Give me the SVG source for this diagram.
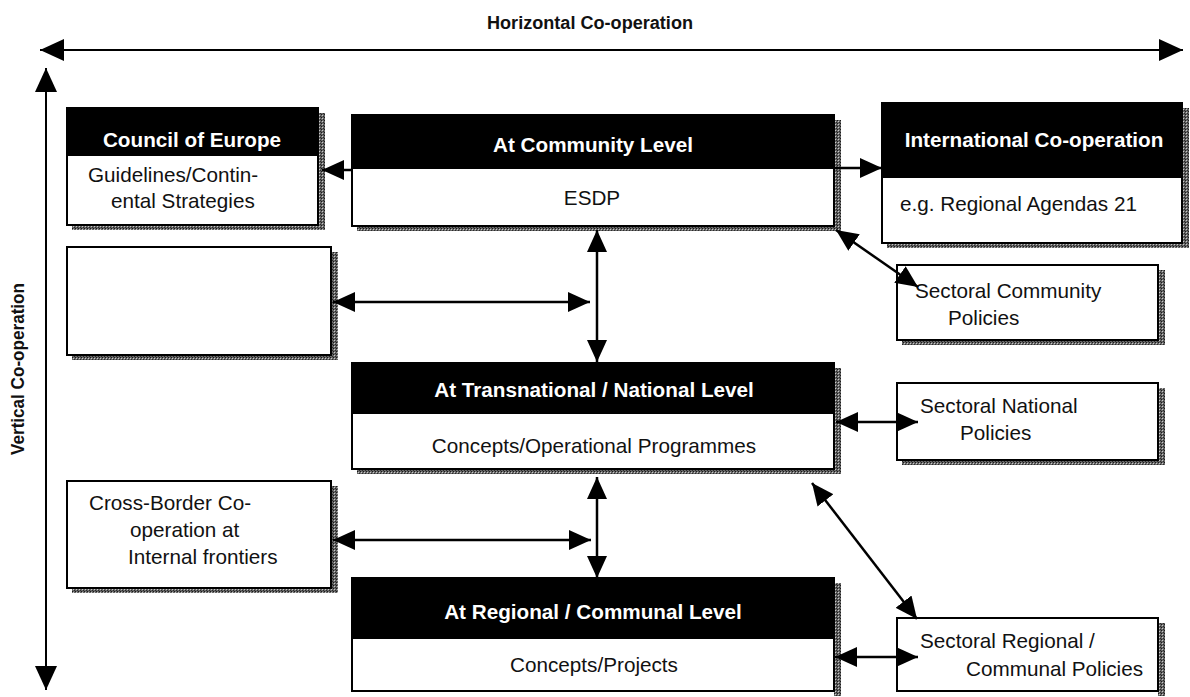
<svg xmlns="http://www.w3.org/2000/svg" width="1190" height="697" viewBox="0 0 1190 697">
  <style>
    .frame { fill: #ffffff; stroke: #000000; stroke-width: 2; }
    .head { fill: #000000; stroke: #000000; stroke-width: 2; }
    .shade { fill: url(#dither); }
    .ttl { font-family: "Liberation Sans", Arial, sans-serif; font-size: 20.7px; font-weight: bold; fill: #ffffff; text-anchor: middle; }
    .txt { font-family: "Liberation Sans", Arial, sans-serif; font-size: 20.7px; fill: #111111; }
    .mid { text-anchor: middle; }
    .axis { font-family: "Liberation Sans", Arial, sans-serif; font-size: 18px; font-weight: bold; fill: #111111; text-anchor: middle; }
    .link { stroke: #000000; stroke-width: 2.5; fill: none; marker-end: url(#tip); }
    .both { marker-start: url(#tip); }
    .axisline { stroke: #000000; stroke-width: 2; fill: none; marker-start: url(#bigtip); marker-end: url(#bigtip); }
  </style>
  <defs>
    <!-- stippled drop shadow -->
    <pattern id="dither" patternUnits="userSpaceOnUse" width="3" height="3">
      <rect width="3" height="3" fill="#666666"/>
      <rect x="0" y="0" width="1" height="1" fill="#1a1a1a"/>
      <rect x="1" y="1" width="1" height="1" fill="#c8c8c8"/>
      <rect x="2" y="2" width="1" height="1" fill="#2a2a2a"/>
    </pattern>
    <marker id="tip" markerUnits="userSpaceOnUse" markerWidth="22" markerHeight="20" refX="22" refY="10" orient="auto-start-reverse">
      <path d="M0,0 L22,10 L0,20 Z" fill="#000000"/>
    </marker>
    <marker id="bigtip" markerUnits="userSpaceOnUse" markerWidth="24" markerHeight="22" refX="24" refY="11" orient="auto-start-reverse">
      <path d="M0,0 L24,11 L0,22 Z" fill="#000000"/>
    </marker>
  </defs>

  <rect width="1190" height="697" fill="#ffffff"/>

  <!-- axes -->
  <g id="axes">
    <line class="axisline" x1="40" y1="50" x2="1183" y2="50"/>
    <line class="axisline" x1="46" y1="68" x2="46" y2="690"/>
    <text class="axis" x="590" y="29" textLength="206" lengthAdjust="spacingAndGlyphs">Horizontal Co-operation</text>
    <text class="axis" transform="translate(24,369) rotate(-90)" x="0" y="0" textLength="172" lengthAdjust="spacingAndGlyphs">Vertical Co-operation</text>
  </g>

  <!-- Council of Europe -->
  <g id="council">
    <rect class="shade" x="318" y="113" width="7" height="117"/>
    <rect class="shade" x="72" y="225" width="253" height="5"/>
    <rect class="frame" x="67" y="108" width="251" height="117"/>
    <rect class="head" x="67" y="108" width="251" height="47"/>
    <text class="ttl" x="192" y="147">Council of Europe</text>
    <text class="txt" x="88" y="182">Guidelines/Contin-</text>
    <text class="txt" x="111" y="208">ental Strategies</text>
  </g>

  <!-- At Community Level -->
  <g id="community">
    <rect class="shade" x="834" y="120" width="7" height="111"/>
    <rect class="shade" x="357" y="226" width="484" height="5"/>
    <rect class="frame" x="352" y="115" width="482" height="111"/>
    <rect class="head" x="352" y="115" width="482" height="53"/>
    <text class="ttl" x="593" y="152">At Community Level</text>
    <text class="txt mid" x="592" y="205">ESDP</text>
  </g>

  <!-- International Co-operation -->
  <g id="international">
    <rect class="shade" x="1182" y="108" width="7" height="140"/>
    <rect class="shade" x="887" y="243" width="302" height="5"/>
    <rect class="frame" x="882" y="103" width="300" height="140"/>
    <rect class="head" x="882" y="103" width="300" height="74"/>
    <text class="ttl" x="1034" y="147">International Co-operation</text>
    <text class="txt" x="900" y="211">e.g. Regional Agendas 21</text>
  </g>

  <!-- empty left box -->
  <g id="blank">
    <rect class="shade" x="331" y="252" width="7" height="108"/>
    <rect class="shade" x="72" y="355" width="266" height="5"/>
    <rect class="frame" x="67" y="247" width="264" height="108"/>
  </g>

  <!-- Sectoral Community Policies -->
  <g id="sectoral-community">
    <rect class="shade" x="1158" y="270" width="7" height="75"/>
    <rect class="shade" x="902" y="340" width="263" height="5"/>
    <rect class="frame" x="897" y="265" width="261" height="75"/>
    <text class="txt" x="915" y="298">Sectoral Community</text>
    <text class="txt" x="948" y="325">Policies</text>
  </g>

  <!-- At Transnational / National Level -->
  <g id="transnational">
    <rect class="shade" x="834" y="368" width="7" height="106"/>
    <rect class="shade" x="357" y="469" width="484" height="5"/>
    <rect class="frame" x="352" y="363" width="482" height="106"/>
    <rect class="head" x="352" y="363" width="482" height="50"/>
    <text class="ttl" x="594" y="397">At Transnational / National Level</text>
    <text class="txt mid" x="594" y="453">Concepts/Operational Programmes</text>
  </g>

  <!-- Sectoral National Policies -->
  <g id="sectoral-national">
    <rect class="shade" x="1158" y="388" width="7" height="77"/>
    <rect class="shade" x="902" y="460" width="263" height="5"/>
    <rect class="frame" x="897" y="383" width="261" height="77"/>
    <text class="txt" x="920" y="413">Sectoral National</text>
    <text class="txt" x="960" y="440">Policies</text>
  </g>

  <!-- Cross-Border Co-operation -->
  <g id="cross-border">
    <rect class="shade" x="331" y="486" width="7" height="107"/>
    <rect class="shade" x="72" y="588" width="266" height="5"/>
    <rect class="frame" x="67" y="481" width="264" height="107"/>
    <text class="txt" x="89" y="510">Cross-Border Co-</text>
    <text class="txt" x="130" y="537">operation at</text>
    <text class="txt" x="128" y="564">Internal frontiers</text>
  </g>

  <!-- At Regional / Communal Level -->
  <g id="regional">
    <rect class="shade" x="834" y="583" width="7" height="113"/>
    <rect class="frame" x="352" y="578" width="482" height="113"/>
    <rect class="head" x="352" y="578" width="482" height="60"/>
    <text class="ttl" x="593" y="619">At Regional / Communal Level</text>
    <text class="txt mid" x="594" y="672">Concepts/Projects</text>
  </g>

  <!-- Sectoral Regional / Communal Policies -->
  <g id="sectoral-regional">
    <rect class="shade" x="1158" y="623" width="7" height="73"/>
    <rect class="frame" x="897" y="618" width="261" height="73"/>
    <text class="txt" x="920" y="648">Sectoral Regional /</text>
    <text class="txt" x="966" y="676">Communal Policies</text>
  </g>

  <!-- connectors, drawn over the boxes so the heads overlap the frames -->
  <g id="connectors">
    <line class="link" x1="352" y1="170" x2="322" y2="170"/>
    <line class="link" x1="834" y1="168" x2="882" y2="168"/>
    <line class="link both" x1="836" y1="230" x2="918" y2="287"/>
    <line class="link both" x1="333" y1="302" x2="590" y2="302"/>
    <line class="link both" x1="597" y1="230" x2="597" y2="362"/>
    <line class="link both" x1="836" y1="422" x2="918" y2="422"/>
    <line class="link both" x1="812" y1="483" x2="917" y2="619"/>
    <line class="link both" x1="597" y1="477" x2="597" y2="578"/>
    <line class="link both" x1="333" y1="540" x2="591" y2="540"/>
    <line class="link both" x1="835" y1="657" x2="918" y2="657"/>
  </g>
</svg>
